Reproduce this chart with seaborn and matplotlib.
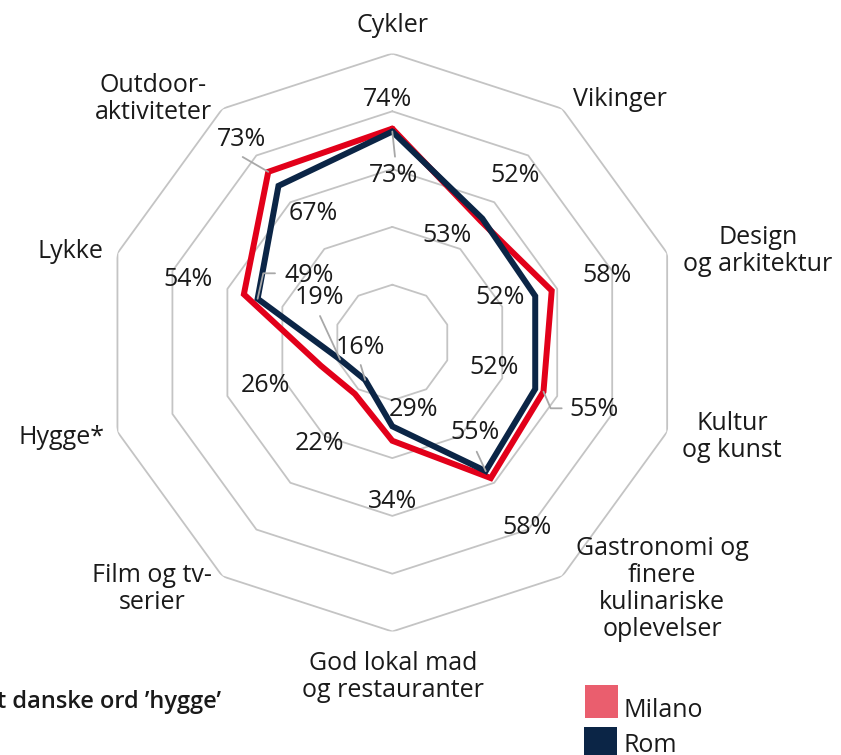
import numpy as np
import pandas as pd
import seaborn as sns
import matplotlib.pyplot as plt
from matplotlib.lines import Line2D
from matplotlib.patches import Rectangle

# --- data -------------------------------------------------------------------
categories = [
    "Cykler", "Vikinger", "Design\nog arkitektur", "Kultur\nog kunst",
    "Gastronomi og\nfinere\nkulinariske\noplevelser",
    "God lokal mad\nog restauranter", "Film og tv-\nserier", "Hygge*",
    "Lykke", "Outdoor-\naktiviteter",
]
milano = [74, 52, 58, 55, 58, 34, 22, 26, 54, 73]
rom = [73, 53, 52, 52, 55, 29, 16, 19, 49, 67]
series_names = ["Milano", "Rom"]
grid_levels = [20, 40, 60, 80, 100]
footnote = "*Det danske ord \u2019hygge\u2019"

# --- style ------------------------------------------------------------------
sns.set_theme(style="white")
plt.rcParams["font.family"] = ["Open Sans", "DejaVu Sans"]

RED = "#E2001A"
NAVY = "#0B2546"
LEG_RED = "#EA5E6E"
GRID = "#C4C4C4"
LEAD = "#A8A8A8"
TXT = "#1A1A1A"
FS = 18

W, H = 841, 755
fig = plt.figure(figsize=(W / 100, H / 100), dpi=100)

cx, cy, R = 392.3, 342.5, 289.0
ax = fig.add_axes([(cx - R) / W, (H - cy - R) / H, 2 * R / W, 2 * R / H],
                  projection="polar")
ax.set_theta_zero_location("N")
ax.set_theta_direction(-1)

n = len(categories)
theta = np.linspace(0, 2 * np.pi, n, endpoint=False)
theta_closed = np.append(theta, 2 * np.pi)

# decagon grid rings
for lvl in grid_levels:
    ax.plot(theta_closed, [lvl] * (n + 1), color=GRID, lw=1.3, zorder=1)

# long-form table with the closing point repeated for each series
rows = []
for name, vals in zip(series_names, [milano, rom]):
    closed = list(vals) + [vals[0]]
    for t, v in zip(theta_closed, closed):
        rows.append({"theta": t, "value": v, "city": name})
df = pd.DataFrame(rows)

sns.lineplot(data=df, x="theta", y="value", hue="city", sort=False,
             estimator=None, palette={"Milano": RED, "Rom": NAVY},
             lw=4.3, legend=False, ax=ax, zorder=3)
for line in ax.lines[-2:]:
    line.set_solid_joinstyle("miter")

ax.set_ylim(0, 100)
ax.set_xticks([])
ax.set_yticks([])
ax.grid(False)
ax.spines["polar"].set_visible(False)
ax.patch.set_alpha(0)
ax.set_xlabel("")
ax.set_ylabel("")


def fx(x):
    return x / W


def fy(y):
    return 1 - y / H


def mark_px(i, v):
    dx, dy = ax.transData.transform((theta[i], v))
    return dx, H - dy


# category labels
cat_pos = [
    (392, 26), (620, 99), (758, 251), (732, 437), (662, 589),
    (393, 677), (152, 589), (62, 437), (70, 251), (153, 99),
]
for lab, (x, y) in zip(categories, cat_pos):
    fig.text(fx(x), fy(y), lab, ha="center", va="center", fontsize=FS,
             color=TXT, linespacing=1.12)

# value labels: position and optional leader path toward the mark
milano_pos = [
    ((387, 100), None), ((515, 175), None), ((607, 276), None),
    ((594, 410), [(561.7, 408.3), (550.7, 408.3)]), ((527, 527), None),
    ((393, 501), None), ((320, 443), None), ((265, 386), None),
    ((188, 279), None), ((242, 140), [(242.7, 157)]),
]
rom_pos = [
    ((394, 175), [(395, 156.7)]), ((447, 235), None), ((500, 297), None),
    ((494, 367), None), ((475, 433), [(476.7, 451.7)]), ((413, 410), None),
    ((360, 347), [(360.7, 365)]), ((319, 297), [(320, 316)]),
    ((309, 276), [(275, 273.3), (263.3, 273.3)]), ((313, 213), None),
]

for vals, positions in [(milano, milano_pos), (rom, rom_pos)]:
    for i, (v, ((x, y), lead)) in enumerate(zip(vals, positions)):
        fig.text(fx(x), fy(y), f"{v}%", ha="center", va="center",
                 fontsize=FS, color=TXT, zorder=5)
        if lead:
            pts = list(lead) + [mark_px(i, v)]
            fig.add_artist(Line2D([fx(p[0]) for p in pts],
                                  [fy(p[1]) for p in pts],
                                  color=LEAD, lw=1.3, zorder=2))

# legend
for (x0, y0), col, name, base in [((585, 685), LEG_RED, "Milano", 717),
                                   ((584, 727), NAVY, "Rom", 752)]:
    fig.add_artist(Rectangle((fx(x0), fy(y0 + 33)), 33 / W, 33 / H,
                             transform=fig.transFigure, color=col, lw=0))
    fig.text(fx(624), fy(base), name, ha="left", va="baseline", fontsize=FS,
             color=TXT)

# footnote, its start running past the left edge
fig.text(fx(221), fy(708), footnote, ha="right", va="baseline", fontsize=17,
         color=TXT, fontweight="semibold")

fig.savefig("out.png", dpi=100)
